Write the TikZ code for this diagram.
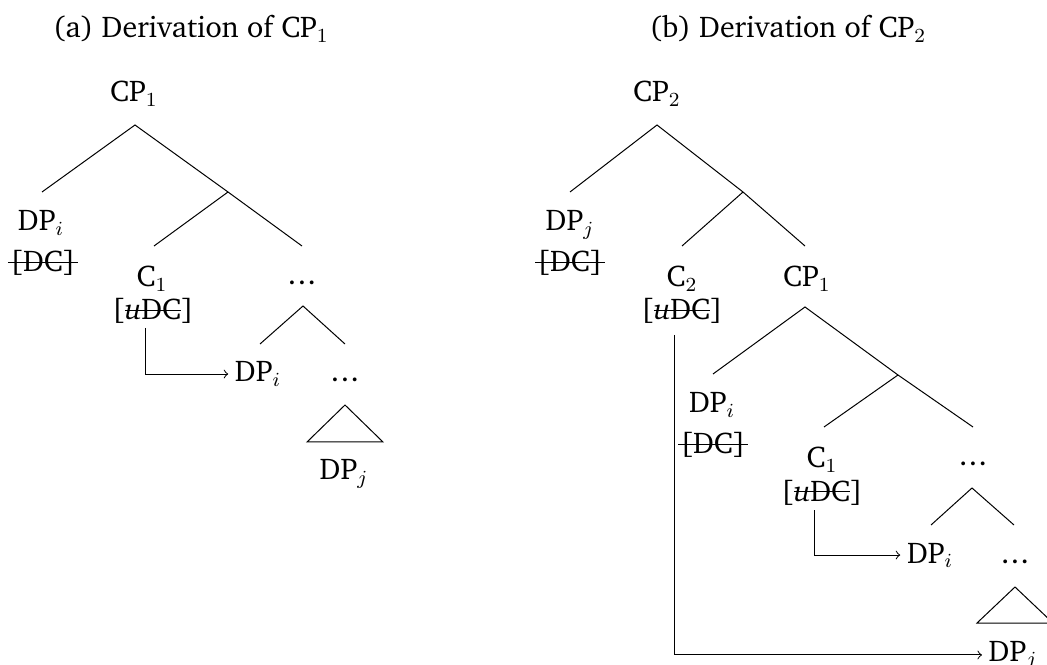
\documentclass[tikz,border=0pt]{standalone}
\usepackage[T1]{fontenc}
\usepackage{charter}
\tikzset{
  lbl/.style={anchor=base, inner sep=0pt, font=\fontsize{12}{14}\selectfont},
  cat/.style={anchor=base, inner sep=2.5pt, font=\fontsize{12}{14}\selectfont},
  edge/.style={line width=0.4pt},
  agree/.style={line width=0.4pt, ->},
}
\newcommand{\strk}[2][0pt]{\leavevmode\setbox0=\hbox{#2}%
  \rlap{\kern-#1\raisebox{3.6pt}{\rule{\dimexpr\wd0+#1+#1\relax}{0.4pt}}}\box0}
\newcommand{\feat}{[\strk{\textit{u}DC}]}
\newcommand{\chk}{\strk[1pt]{[DC]}}
\newcommand{\dts}{.\kern0.6pt.\kern0.6pt.}
\begin{document}
\begin{tikzpicture}[x=0.4pt,y=-0.4pt]
\useasboundingbox (0,0) rectangle (1047,665);
\clip (0,0) rectangle (1047,665);
% ---------- panel (a) ----------
\node[lbl] (capa) at (191,38) {(a) Derivation of CP$_1$};
\node[cat] (aCP) at (134,102) {CP$_1$};
\node[cat] (aDP) at (41,231) {DP$_i$};
\node[cat] (aDC) at (43,272) {\chk};
\node[cat] (aC) at (152,287) {C$_1$};
\node[cat] (auDC) at (153,320) {\feat};
\node[cat] (adots) at (302,285) {\dts};
\node[cat] (aDPi) at (258,382) {DP$_i$};
\node[cat] (adots2) at (345,382) {\dts};
\node[cat] (aDPj) at (344,480) {DP$_j$};
\coordinate (a0) at (135,125);
\coordinate (a1) at (42,192);
\coordinate (a2) at (228,192);
\coordinate (a3) at (154,246);
\coordinate (a4) at (302,246);
\coordinate (a5) at (303,306);
\coordinate (a6) at (260,344);
\coordinate (a7) at (345,344);
\coordinate (a8) at (345,405);
\coordinate (a9) at (307,442);
\coordinate (a10) at (383,442);
\coordinate (aarr) at (145,328);
\draw[edge] (a1) -- (a0) -- (a2) -- (a4);
\draw[edge] (a2) -- (a3);
\draw[edge] (a6) -- (a5) -- (a7);
\draw[edge] (a9) -- (a8) -- (a10) -- cycle;
\draw[agree] (aarr) |- (aDPi.west);
% ---------- panel (b) ----------
\node[lbl] (capb) at (788,38) {(b) Derivation of CP$_2$};
\node[cat] (bCP) at (657,102) {CP$_2$};
\node[cat] (bDPj) at (570,231) {DP$_j$};
\node[cat] (bDCj) at (570,272) {\chk};
\node[cat] (bC2) at (682,287) {C$_2$};
\node[cat] (buDC2) at (682,320) {\feat};
\node[cat] (bCP1) at (807,287) {CP$_1$};
\node[cat] (bDPi) at (712,413) {DP$_i$};
\node[cat] (bDCi) at (713,454) {\chk};
\node[cat] (bC1) at (822,468) {C$_1$};
\node[cat] (buDC1) at (822,501) {\feat};
\node[cat] (bdots) at (973,466) {\dts};
\node[cat] (bDPi2) at (930,563) {DP$_i$};
\node[cat] (bdots2) at (1015,563) {\dts};
\node[cat] (bDPj2) at (1013,661) {DP$_j$};
\coordinate (b0) at (657,125);
\coordinate (b1) at (570,192);
\coordinate (b2) at (743,192);
\coordinate (b3) at (682,246);
\coordinate (b4) at (805,246);
\coordinate (b5) at (805,307);
\coordinate (b6) at (713,374);
\coordinate (b7) at (898,375);
\coordinate (b8) at (824,427);
\coordinate (b9) at (973,427);
\coordinate (b10) at (972,488);
\coordinate (b11) at (931,525);
\coordinate (b12) at (1014,525);
\coordinate (b13) at (1015,587);
\coordinate (b14) at (977,623);
\coordinate (b15) at (1053,623);
\coordinate (barr1) at (814,510);
\coordinate (barr2) at (674,335);
\draw[edge] (b1) -- (b0) -- (b2) -- (b4);
\draw[edge] (b2) -- (b3);
\draw[edge] (b6) -- (b5) -- (b7) -- (b9);
\draw[edge] (b7) -- (b8);
\draw[edge] (b11) -- (b10) -- (b12);
\draw[edge] (b14) -- (b13) -- (b15) -- cycle;
\draw[agree] (barr1) |- (bDPi2.west);
\draw[agree] (barr2) |- (bDPj2.west);
\end{tikzpicture}
\end{document}
